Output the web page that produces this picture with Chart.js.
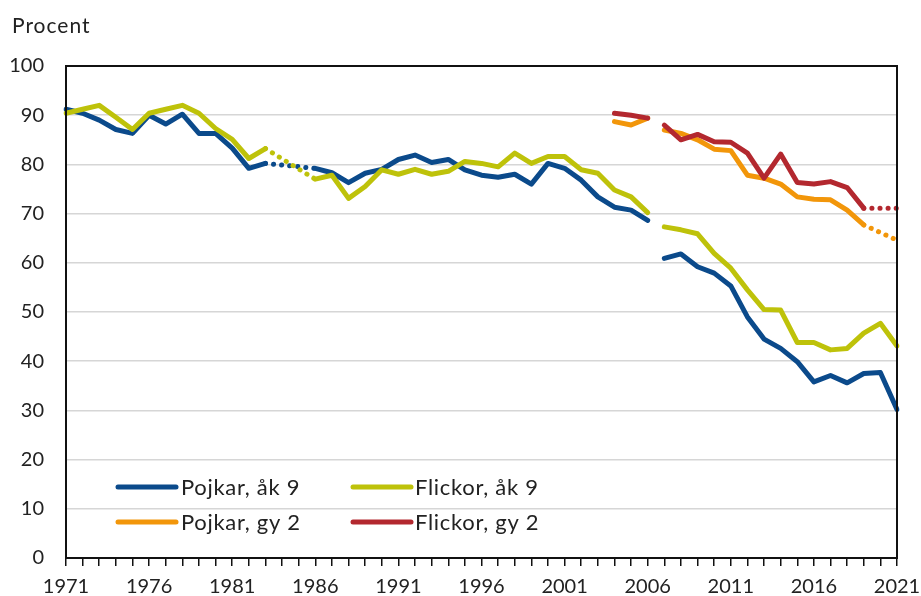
<!DOCTYPE html>
<html>
<head>
<meta charset="utf-8">
<script src="https://cdn.jsdelivr.net/npm/chart.js@4/dist/chart.umd.min.js"></script>
<style>
  html, body { margin: 0; padding: 0; background: #fff; }
  #wrap { width: 921px; height: 596px; position: relative; }
</style>
</head>
<body>
<div id="wrap"><canvas id="c" width="921" height="596"></canvas></div>
<script>
const years = [1971,1972,1973,1974,1975,1976,1977,1978,1979,1980,
  1981,1982,1983,1984,1985,1986,1987,1988,1989,1990,
  1991,1992,1993,1994,1995,1996,1997,1998,1999,2000,
  2001,2002,2003,2004,2005,2006,2007,2008,2009,2010,
  2011,2012,2013,2014,2015,2016,2017,2018,2019,2020,2021];

const pojkarAk9 = [91.2,90.4,89.0,87.1,86.3,90.0,88.2,90.2,86.3,86.3,
  83.3,79.2,80.2,null,null,79.2,78.3,76.3,78.2,79.0,
  81.0,81.9,80.4,81.0,78.9,77.8,77.4,78.0,76.0,80.2,
  79.2,76.8,73.4,71.3,70.7,68.6,60.9,61.8,59.2,57.9,
  55.3,49.0,44.5,42.6,39.9,35.8,37.1,35.6,37.5,37.7,30.2];

const flickorAk9 = [90.4,91.2,92.0,89.6,87.1,90.4,91.2,92.0,90.4,87.3,
  85.1,81.2,83.2,null,null,77.0,77.8,73.1,75.5,78.9,
  78.0,79.0,78.0,78.6,80.6,80.2,79.5,82.3,80.2,81.6,
  81.6,78.9,78.2,74.8,73.4,70.2,67.3,66.7,65.9,61.9,
  58.9,54.5,50.5,50.4,43.8,43.8,42.3,42.6,45.7,47.7,43.1];

const pojkarGy2 = [null,null,null,null,null,null,null,null,null,null,
  null,null,null,null,null,null,null,null,null,null,
  null,null,null,null,null,null,null,null,null,null,
  null,null,null,88.7,88.0,89.4,87.0,86.3,85.0,83.1,
  82.8,77.8,77.2,76.0,73.4,72.9,72.8,70.7,67.7,null,64.6];

const flickorGy2 = [null,null,null,null,null,null,null,null,null,null,
  null,null,null,null,null,null,null,null,null,null,
  null,null,null,null,null,null,null,null,null,null,
  null,null,null,90.4,90.0,89.4,88.0,85.0,86.1,84.6,
  84.5,82.3,77.2,82.1,76.3,76.0,76.5,75.3,71.1,null,71.1];

const seriesLabels = ['Pojkar, åk 9', 'Flickor, åk 9', 'Pojkar, gy 2', 'Flickor, gy 2'];
const seriesColors = ['#0b4a8b', '#bec20a', '#f2960a', '#b3282f'];
const breakAfterYear = 2006;   // no line between 2006 and 2007
const yTicks = [0,10,20,30,40,50,60,70,80,90,100];

const FONT = 'Lato, "Open Sans", sans-serif';
const breakIdx = years.indexOf(breakAfterYear);

const segment = {
  borderColor: ctx => (ctx.p0DataIndex === breakIdx && ctx.p1DataIndex === breakIdx + 1) ? 'rgba(0,0,0,0)' : undefined,
  borderDash: ctx => (ctx.p0.skip || ctx.p1.skip) ? [0.1, 8] : undefined
};

function ds(i, data, order) {
  return {
    label: seriesLabels[i],
    data: data,
    borderColor: seriesColors[i],
    backgroundColor: seriesColors[i],
    borderWidth: 5,
    borderCapStyle: 'round',
    borderJoinStyle: 'round',
    pointRadius: 0,
    pointHoverRadius: 0,
    tension: 0,
    spanGaps: true,
    segment: segment,
    order: order
  };
}

const framePlugin = {
  id: 'frame',
  afterDatasetsDraw(chart) {
    const {ctx, chartArea: a} = chart;
    ctx.save();
    ctx.strokeStyle = '#111';
    ctx.lineWidth = 2;
    ctx.strokeRect(a.left, a.top, a.right - a.left, a.bottom - a.top);
    ctx.restore();
  },
  afterDraw(chart) {
    const ctx = chart.ctx;
    ctx.save();
    // axis title
    ctx.fillStyle = '#222';
    ctx.font = '21px ' + FONT;
    ctx.letterSpacing = '1px';
    ctx.textBaseline = 'alphabetic';
    ctx.textAlign = 'left';
    ctx.fillText('Procent', 12, 33);
    // legend
    const pos = [
      {lx: 118, tx: 181, y: 487},
      {lx: 353, tx: 415, y: 487},
      {lx: 118, tx: 181, y: 522},
      {lx: 353, tx: 415, y: 522}
    ];
    ctx.font = '22px ' + FONT;
    ctx.letterSpacing = '0.7px';
    chart.data.datasets.forEach((d, i) => {
      const p = pos[i];
      ctx.strokeStyle = d.borderColor;
      ctx.lineWidth = 5;
      ctx.lineCap = 'round';
      ctx.beginPath();
      ctx.moveTo(p.lx, p.y);
      ctx.lineTo(p.lx + 58, p.y);
      ctx.stroke();
      ctx.fillStyle = '#222';
      ctx.fillText(d.label, p.tx, p.y + 8);
    });
    ctx.restore();
  }
};

new Chart(document.getElementById('c'), {
  type: 'line',
  data: {
    labels: years,
    datasets: [
      ds(0, pojkarAk9, 2),
      ds(1, flickorAk9, 1),
      ds(2, pojkarGy2, 3),
      ds(3, flickorGy2, 0)
    ]
  },
  plugins: [framePlugin],
  options: {
    responsive: false,
    animation: false,
    events: [],
    layout: { padding: { top: 66, right: 24, bottom: 0, left: 0 } },
    plugins: { legend: { display: false }, tooltip: { enabled: false }, title: { display: false } },
    scales: {
      x: {
        type: 'category',
        offset: false,
        afterFit: s => { s.height = 38; s.paddingLeft = 0; s.paddingRight = 0; },
        grid: { drawOnChartArea: false, drawTicks: true, tickLength: 8, color: '#111', lineWidth: 1.5 },
        border: { display: true, color: '#111', width: 2 },
        ticks: {
          autoSkip: false,
          maxRotation: 0,
          padding: 9,
          color: '#222',
          font: { family: FONT, size: 20 },
          callback: function(v, i) { return (years[i] - years[0]) % 5 === 0 ? String(years[i]) : ''; }
        }
      },
      y: {
        min: 0, max: 100,
        afterFit: s => { s.width = 66; s.paddingTop = 0; s.paddingBottom = 0; },
        afterBuildTicks: s => { s.ticks = yTicks.map(v => ({value: v})); },
        grid: { drawTicks: false, color: '#d6d6d6', lineWidth: 1.5 },
        border: { display: true, color: '#111', width: 2 },
        ticks: { padding: 22, color: '#222', font: { family: FONT, size: 20 } }
      }
    }
  }
});
</script>
</body>
</html>
